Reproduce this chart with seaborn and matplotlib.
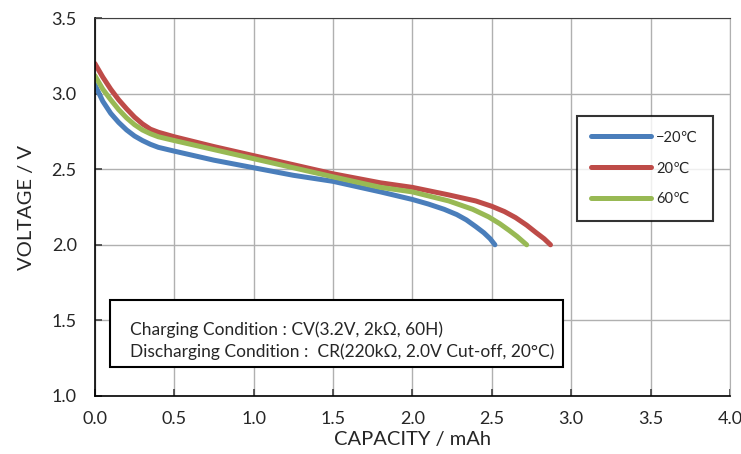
import pandas as pd
import numpy as np
import matplotlib.pyplot as plt
import seaborn as sns
from matplotlib.patches import Rectangle

# discharge curves
cap_m20 = [0.0, 0.05, 0.1, 0.15, 0.2, 0.25, 0.3, 0.35, 0.4, 0.5, 0.75, 1.0, 1.25, 1.5, 1.8, 2.0, 2.1, 2.2, 2.28, 2.34, 2.4, 2.45, 2.49, 2.52]
volt_m20 = [3.06, 2.95, 2.87, 2.81, 2.76, 2.72, 2.69, 2.665, 2.645, 2.62, 2.56, 2.51, 2.46, 2.42, 2.35, 2.30, 2.27, 2.235, 2.2, 2.165, 2.12, 2.08, 2.04, 2.0]

cap_20 = [0.0, 0.05, 0.1, 0.15, 0.2, 0.25, 0.3, 0.35, 0.4, 0.5, 0.75, 1.0, 1.25, 1.5, 1.8, 2.0, 2.23, 2.4, 2.5, 2.58, 2.65, 2.72, 2.78, 2.83, 2.87]
volt_20 = [3.2, 3.11, 3.03, 2.96, 2.90, 2.845, 2.80, 2.765, 2.745, 2.715, 2.65, 2.59, 2.53, 2.47, 2.41, 2.38, 2.33, 2.29, 2.255, 2.22, 2.18, 2.13, 2.08, 2.04, 2.0]

cap_60 = [0.0, 0.05, 0.1, 0.15, 0.2, 0.25, 0.3, 0.35, 0.4, 0.5, 0.75, 1.0, 1.25, 1.5, 1.8, 2.0, 2.23, 2.38, 2.48, 2.55, 2.61, 2.66, 2.72]
volt_60 = [3.12, 3.03, 2.96, 2.895, 2.84, 2.795, 2.76, 2.735, 2.715, 2.69, 2.63, 2.57, 2.51, 2.45, 2.38, 2.35, 2.29, 2.235, 2.185, 2.14, 2.095, 2.055, 2.0]

labels = ['\u221220\u2103', '20\u2103', '60\u2103']
colors = ['#4a7ebb', '#be4b48', '#98b954']

df = pd.concat([
    pd.DataFrame({'cap': cap_m20, 'volt': volt_m20, 'temp': labels[0]}),
    pd.DataFrame({'cap': cap_20, 'volt': volt_20, 'temp': labels[1]}),
    pd.DataFrame({'cap': cap_60, 'volt': volt_60, 'temp': labels[2]}),
], ignore_index=True)

sns.set_style('white')
plt.rcParams['font.family'] = ['Lato', 'DejaVu Sans']

fig, ax = plt.subplots(figsize=(7.41, 4.54), dpi=100)
fig.subplots_adjust(left=0.128, right=0.985, top=0.960, bottom=0.128)

sns.lineplot(data=df, x='cap', y='volt', hue='temp', palette=colors, sort=False,
             estimator=None, linewidth=3.6, ax=ax, solid_capstyle='round',
             solid_joinstyle='round')

ax.set_xlim(0, 4.0)
ax.set_ylim(1.0, 3.5)
ax.set_xticks(np.arange(0, 4.01, 0.5))
ax.set_yticks(np.arange(1.0, 3.51, 0.5))
ax.set_xticklabels([f'{v:.1f}' for v in np.arange(0, 4.01, 0.5)])
ax.set_yticklabels([f'{v:.1f}' for v in np.arange(1.0, 3.51, 0.5)])
ax.grid(True, color='#b0b0b0', linewidth=1.0)
ax.tick_params(axis='both', labelsize=13, direction='in', length=5, width=1.2,
               color='#404040', left=True, bottom=True)
ax.tick_params(axis='y', pad=13)
ax.tick_params(axis='x', pad=11)
ax.set_xlabel('CAPACITY / mAh', fontsize=14.5, labelpad=3)
ax.set_ylabel('VOLTAGE / V', fontsize=14.5, labelpad=12)
for side in ['left', 'bottom']:
    ax.spines[side].set_color('black')
    ax.spines[side].set_linewidth(1.2)
ax.spines['top'].set_color('#404040')
ax.spines['right'].set_color('#b0b0b0')

leg = ax.legend(loc='upper left', bbox_to_anchor=(0.759, 0.741), fontsize=10.5,
                frameon=True, fancybox=False, handlelength=4.1, labelspacing=1.15,
                borderpad=1.0, handletextpad=0.35, borderaxespad=0)
leg.get_frame().set_edgecolor('black')
leg.get_frame().set_linewidth(1.5)
for line in leg.get_lines():
    line.set_linewidth(3.6)

ax.add_patch(Rectangle((0.024, 0.077), 0.713, 0.177, transform=ax.transAxes,
                       facecolor='white', edgecolor='black', linewidth=1.5, zorder=5))
ax.text(0.055, 0.175, 'Charging Condition : CV(3.2V, 2k\u03a9, 60H)', transform=ax.transAxes,
        fontsize=12.5, va='center', zorder=6)
ax.text(0.055, 0.116, 'Discharging Condition :  CR(220k\u03a9, 2.0V Cut-off, 20\u00b0C)',
        transform=ax.transAxes, fontsize=12.5, va='center', zorder=6)

plt.savefig('out.png', dpi=100)
